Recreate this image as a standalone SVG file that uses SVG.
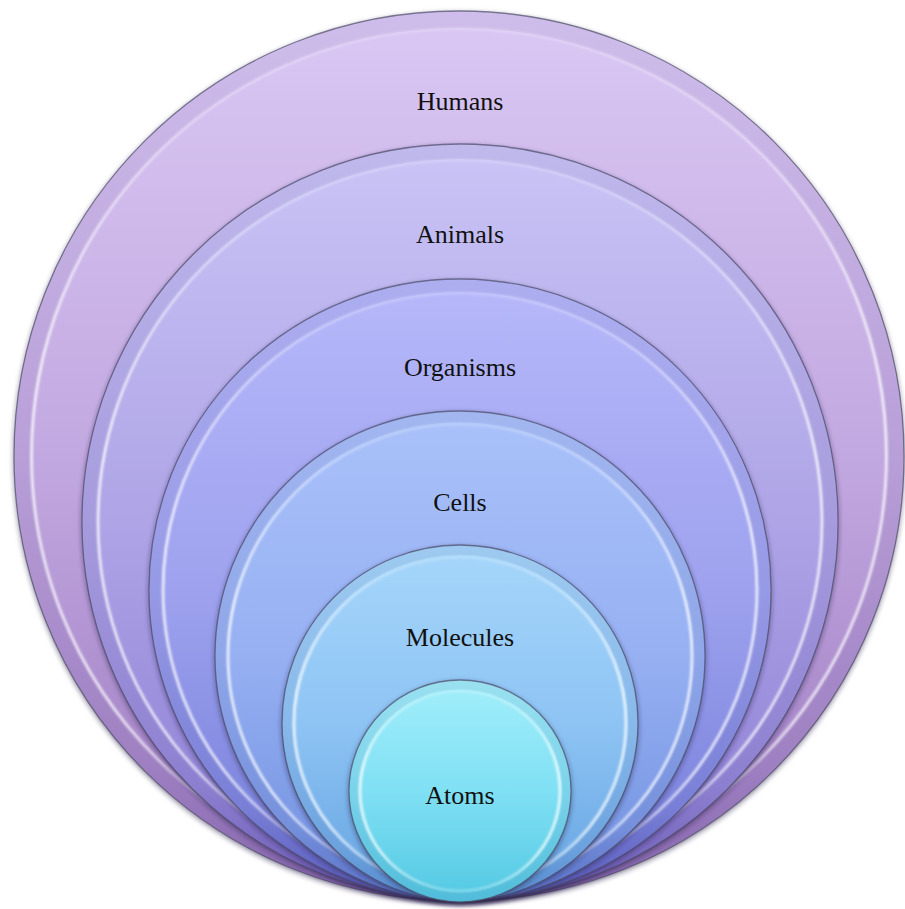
<svg xmlns="http://www.w3.org/2000/svg" width="905" height="909" viewBox="0 0 905 909">
<defs>
<filter id="sh" x="-10%" y="-10%" width="120%" height="120%">
<feDropShadow dx="0" dy="2" stdDeviation="2.5" flood-color="#2a1a4a" flood-opacity="0.55"/>
</filter>
<filter id="soft" x="-5%" y="-5%" width="110%" height="110%">
<feGaussianBlur stdDeviation="0.9"/>
</filter>
<linearGradient id="gH" x1="0" y1="0" x2="0" y2="1">
<stop offset="0" stop-color="#dac8f4"/><stop offset="0.5" stop-color="#c2a8e0"/><stop offset="0.85" stop-color="#a686c8"/><stop offset="1" stop-color="#8a68b0"/>
</linearGradient>
<linearGradient id="gA" x1="0" y1="0" x2="0" y2="1">
<stop offset="0" stop-color="#cac4f6"/><stop offset="0.5" stop-color="#aea4e6"/><stop offset="0.85" stop-color="#9486d8"/><stop offset="1" stop-color="#6e5cb8"/>
</linearGradient>
<linearGradient id="gO" x1="0" y1="0" x2="0" y2="1">
<stop offset="0" stop-color="#b6b8fa"/><stop offset="0.5" stop-color="#9ea2ee"/><stop offset="0.85" stop-color="#7e86de"/><stop offset="1" stop-color="#5a5cc0"/>
</linearGradient>
<linearGradient id="gC" x1="0" y1="0" x2="0" y2="1">
<stop offset="0" stop-color="#aac2fa"/><stop offset="0.5" stop-color="#96b0f2"/><stop offset="0.85" stop-color="#7a98e4"/><stop offset="1" stop-color="#5a74cc"/>
</linearGradient>
<linearGradient id="gM" x1="0" y1="0" x2="0" y2="1">
<stop offset="0" stop-color="#a6d6fa"/><stop offset="0.5" stop-color="#8ec4f4"/><stop offset="0.85" stop-color="#70ace6"/><stop offset="1" stop-color="#5890d4"/>
</linearGradient>
<linearGradient id="gT" x1="0" y1="0" x2="0" y2="1">
<stop offset="0" stop-color="#a2eefa"/><stop offset="0.5" stop-color="#80e0f4"/><stop offset="1" stop-color="#52c8e2"/>
</linearGradient>
<linearGradient id="hl" x1="0" y1="0" x2="0" y2="1">
<stop offset="0" stop-color="#ffffff" stop-opacity="0.2"/><stop offset="0.4" stop-color="#ffffff" stop-opacity="0.75"/><stop offset="0.8" stop-color="#ffffff" stop-opacity="0.7"/><stop offset="1" stop-color="#ffffff" stop-opacity="0.25"/>
</linearGradient>
</defs>
<style>
.edge{stroke:#4a4a66;stroke-opacity:0.7;stroke-width:1.3}
.ring{fill:none;stroke:url(#hl);stroke-width:3;filter:url(#soft)}
.band{fill:none;stroke:#3a2a70;stroke-opacity:0.07}
text{font-family:"Liberation Serif","Times New Roman",serif;font-size:26px;fill:#111;text-anchor:middle}
</style>
<g id="humans">
<circle class="edge" cx="459" cy="456" r="445" fill="url(#gH)" filter="url(#sh)"/>
<circle class="band" cx="459" cy="456" r="436" stroke-width="16"/>
<circle class="ring" cx="459" cy="456" r="427.5"/>
<text x="460" y="110">Humans</text>
</g>
<g id="animals">
<circle class="edge" cx="460" cy="522" r="378" fill="url(#gA)" filter="url(#sh)"/>
<circle class="band" cx="460" cy="522" r="370" stroke-width="14"/>
<circle class="ring" cx="460" cy="522" r="362"/>
<text x="460" y="243">Animals</text>
</g>
<g id="organisms">
<circle class="edge" cx="460" cy="590" r="311" fill="url(#gO)" filter="url(#sh)"/>
<circle class="band" cx="460" cy="590" r="304" stroke-width="12"/>
<circle class="ring" cx="460" cy="590" r="297"/>
<text x="460" y="376">Organisms</text>
</g>
<g id="cells">
<circle class="edge" cx="460" cy="656" r="245" fill="url(#gC)" filter="url(#sh)"/>
<circle class="band" cx="460" cy="656" r="239" stroke-width="11"/>
<circle class="ring" cx="460" cy="656" r="232"/>
<text x="460" y="511">Cells</text>
</g>
<g id="molecules">
<circle class="edge" cx="460" cy="723" r="178" fill="url(#gM)" filter="url(#sh)"/>
<circle class="band" cx="460" cy="723" r="173" stroke-width="10"/>
<circle class="ring" cx="460" cy="723" r="166"/>
<text x="460" y="646">Molecules</text>
</g>
<g id="atoms">
<circle class="edge" cx="460" cy="791" r="111" fill="url(#gT)" filter="url(#sh)"/>
<circle class="band" cx="460" cy="791" r="106" stroke-width="9"/>
<circle class="ring" cx="460" cy="791" r="100"/>
<text x="460" y="804">Atoms</text>
</g>
<g id="connectors"/>
</svg>
